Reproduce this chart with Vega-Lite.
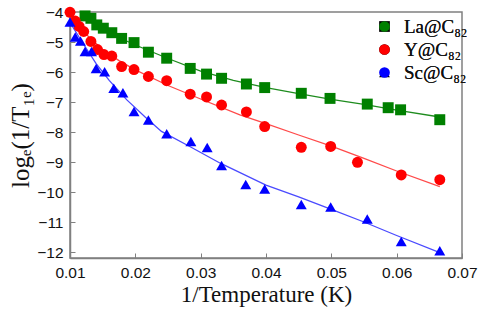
{
  "$schema": "https://vega.github.io/schema/vega-lite/v6.json",
  "width": 392,
  "height": 246,
  "autosize": "none",
  "padding": {"left": 70, "top": 12, "right": 23, "bottom": 55},
  "background": "white",
  "config": {
    "view": {"stroke": "#808080", "strokeWidth": 1.5},
    "axis": {
      "grid": false,
      "domainColor": "#808080",
      "domainWidth": 1.5,
      "tickColor": "#808080",
      "tickSize": -5,
      "labelFlush": false,
      "labelFont": "Liberation Sans",
      "labelFontSize": 15.5,
      "labelColor": "#111",
      "titleFont": "Liberation Serif",
      "titleFontWeight": "normal",
      "titleFontSize": 22,
      "titleColor": "#111"
    }
  },
  "datasets": {
    "pts": [
      {"series": "La@C₈₂", "x": 0.0123, "y": -4.13},
      {"series": "La@C₈₂", "x": 0.0132, "y": -4.21},
      {"series": "La@C₈₂", "x": 0.0141, "y": -4.43},
      {"series": "La@C₈₂", "x": 0.0151, "y": -4.54},
      {"series": "La@C₈₂", "x": 0.0164, "y": -4.69},
      {"series": "La@C₈₂", "x": 0.0179, "y": -4.88},
      {"series": "La@C₈₂", "x": 0.0198, "y": -5.02},
      {"series": "La@C₈₂", "x": 0.0220, "y": -5.34},
      {"series": "La@C₈₂", "x": 0.0248, "y": -5.54},
      {"series": "La@C₈₂", "x": 0.0284, "y": -5.88},
      {"series": "La@C₈₂", "x": 0.0309, "y": -6.07},
      {"series": "La@C₈₂", "x": 0.0332, "y": -6.21},
      {"series": "La@C₈₂", "x": 0.0370, "y": -6.40},
      {"series": "La@C₈₂", "x": 0.0398, "y": -6.52},
      {"series": "La@C₈₂", "x": 0.0454, "y": -6.71},
      {"series": "La@C₈₂", "x": 0.0498, "y": -6.88},
      {"series": "La@C₈₂", "x": 0.0555, "y": -7.07},
      {"series": "La@C₈₂", "x": 0.0587, "y": -7.19},
      {"series": "La@C₈₂", "x": 0.0606, "y": -7.26},
      {"series": "La@C₈₂", "x": 0.0666, "y": -7.59},
      {"series": "Y@C₈₂", "x": 0.0100, "y": -4.01},
      {"series": "Y@C₈₂", "x": 0.0108, "y": -4.30},
      {"series": "Y@C₈₂", "x": 0.0114, "y": -4.48},
      {"series": "Y@C₈₂", "x": 0.0121, "y": -4.65},
      {"series": "Y@C₈₂", "x": 0.0132, "y": -4.98},
      {"series": "Y@C₈₂", "x": 0.0142, "y": -5.25},
      {"series": "Y@C₈₂", "x": 0.0152, "y": -5.42},
      {"series": "Y@C₈₂", "x": 0.0164, "y": -5.47},
      {"series": "Y@C₈₂", "x": 0.0179, "y": -5.82},
      {"series": "Y@C₈₂", "x": 0.0198, "y": -5.92},
      {"series": "Y@C₈₂", "x": 0.0220, "y": -6.15},
      {"series": "Y@C₈₂", "x": 0.0248, "y": -6.29},
      {"series": "Y@C₈₂", "x": 0.0284, "y": -6.74},
      {"series": "Y@C₈₂", "x": 0.0309, "y": -6.83},
      {"series": "Y@C₈₂", "x": 0.0332, "y": -7.10},
      {"series": "Y@C₈₂", "x": 0.0370, "y": -7.33},
      {"series": "Y@C₈₂", "x": 0.0398, "y": -7.82},
      {"series": "Y@C₈₂", "x": 0.0454, "y": -8.51},
      {"series": "Y@C₈₂", "x": 0.0499, "y": -8.48},
      {"series": "Y@C₈₂", "x": 0.0540, "y": -9.01},
      {"series": "Y@C₈₂", "x": 0.0607, "y": -9.43},
      {"series": "Y@C₈₂", "x": 0.0666, "y": -9.59},
      {"series": "Sc@C₈₂", "x": 0.0100, "y": -4.33},
      {"series": "Sc@C₈₂", "x": 0.0108, "y": -4.83},
      {"series": "Sc@C₈₂", "x": 0.0116, "y": -4.97},
      {"series": "Sc@C₈₂", "x": 0.0123, "y": -5.32},
      {"series": "Sc@C₈₂", "x": 0.0133, "y": -5.32},
      {"series": "Sc@C₈₂", "x": 0.0140, "y": -5.88},
      {"series": "Sc@C₈₂", "x": 0.0153, "y": -5.99},
      {"series": "Sc@C₈₂", "x": 0.0167, "y": -6.54},
      {"series": "Sc@C₈₂", "x": 0.0181, "y": -6.69},
      {"series": "Sc@C₈₂", "x": 0.0198, "y": -7.32},
      {"series": "Sc@C₈₂", "x": 0.0220, "y": -7.60},
      {"series": "Sc@C₈₂", "x": 0.0248, "y": -8.06},
      {"series": "Sc@C₈₂", "x": 0.0285, "y": -8.32},
      {"series": "Sc@C₈₂", "x": 0.0310, "y": -8.52},
      {"series": "Sc@C₈₂", "x": 0.0332, "y": -9.12},
      {"series": "Sc@C₈₂", "x": 0.0369, "y": -9.75},
      {"series": "Sc@C₈₂", "x": 0.0398, "y": -9.90},
      {"series": "Sc@C₈₂", "x": 0.0454, "y": -10.42},
      {"series": "Sc@C₈₂", "x": 0.0499, "y": -10.50},
      {"series": "Sc@C₈₂", "x": 0.0555, "y": -10.90},
      {"series": "Sc@C₈₂", "x": 0.0607, "y": -11.65},
      {"series": "Sc@C₈₂", "x": 0.0666, "y": -11.96}
    ],
    "fit": [
      {"series": "La@C₈₂", "x": 0.0120, "y": -4.08},
      {"series": "La@C₈₂", "x": 0.0150, "y": -4.56},
      {"series": "La@C₈₂", "x": 0.0175, "y": -4.85},
      {"series": "La@C₈₂", "x": 0.0200, "y": -5.10},
      {"series": "La@C₈₂", "x": 0.0250, "y": -5.55},
      {"series": "La@C₈₂", "x": 0.0300, "y": -5.97},
      {"series": "La@C₈₂", "x": 0.0350, "y": -6.28},
      {"series": "La@C₈₂", "x": 0.0400, "y": -6.52},
      {"series": "La@C₈₂", "x": 0.0450, "y": -6.72},
      {"series": "La@C₈₂", "x": 0.0500, "y": -6.91},
      {"series": "La@C₈₂", "x": 0.0550, "y": -7.08},
      {"series": "La@C₈₂", "x": 0.0600, "y": -7.27},
      {"series": "La@C₈₂", "x": 0.0666, "y": -7.50},
      {"series": "Y@C₈₂", "x": 0.0100, "y": -4.02},
      {"series": "Y@C₈₂", "x": 0.0125, "y": -4.75},
      {"series": "Y@C₈₂", "x": 0.0150, "y": -5.25},
      {"series": "Y@C₈₂", "x": 0.0175, "y": -5.62},
      {"series": "Y@C₈₂", "x": 0.0200, "y": -5.93},
      {"series": "Y@C₈₂", "x": 0.0250, "y": -6.45},
      {"series": "Y@C₈₂", "x": 0.0300, "y": -6.90},
      {"series": "Y@C₈₂", "x": 0.0360, "y": -7.43},
      {"series": "Y@C₈₂", "x": 0.0400, "y": -7.72},
      {"series": "Y@C₈₂", "x": 0.0450, "y": -8.10},
      {"series": "Y@C₈₂", "x": 0.0500, "y": -8.47},
      {"series": "Y@C₈₂", "x": 0.0550, "y": -8.88},
      {"series": "Y@C₈₂", "x": 0.0600, "y": -9.30},
      {"series": "Y@C₈₂", "x": 0.0666, "y": -9.82},
      {"series": "Sc@C₈₂", "x": 0.0100, "y": -4.35},
      {"series": "Sc@C₈₂", "x": 0.0120, "y": -5.05},
      {"series": "Sc@C₈₂", "x": 0.0140, "y": -5.72},
      {"series": "Sc@C₈₂", "x": 0.0160, "y": -6.28},
      {"series": "Sc@C₈₂", "x": 0.0187, "y": -6.93},
      {"series": "Sc@C₈₂", "x": 0.0215, "y": -7.50},
      {"series": "Sc@C₈₂", "x": 0.0240, "y": -7.98},
      {"series": "Sc@C₈₂", "x": 0.0284, "y": -8.49},
      {"series": "Sc@C₈₂", "x": 0.0330, "y": -9.04},
      {"series": "Sc@C₈₂", "x": 0.0400, "y": -9.77},
      {"series": "Sc@C₈₂", "x": 0.0450, "y": -10.16},
      {"series": "Sc@C₈₂", "x": 0.0500, "y": -10.58},
      {"series": "Sc@C₈₂", "x": 0.0550, "y": -11.00},
      {"series": "Sc@C₈₂", "x": 0.0600, "y": -11.45},
      {"series": "Sc@C₈₂", "x": 0.0666, "y": -12.02}
    ]
  },
  "encoding": {
    "x": {
      "field": "x", "type": "quantitative",
      "scale": {"domain": [0.01, 0.07], "nice": false, "zero": false},
      "axis": {"values": [0.01, 0.02, 0.03, 0.04, 0.05, 0.06, 0.07], "format": ".2f", "title": "1/Temperature (K)", "titleFont": "Liberation Serif", "titleFontSize": 23, "labelPadding": 12, "titlePadding": 3}
    },
    "y": {
      "field": "y", "type": "quantitative",
      "scale": {"domain": [-12.2, -4], "nice": false, "zero": false},
      "axis": {"values": [-4, -5, -6, -7, -8, -9, -10, -11, -12], "title": "logₑ(1/T₁ₑ)", "titleFont": "Liberation Serif", "titleFontSize": 25, "labelPadding": 12, "titlePadding": 3}
    }
  },
  "layer": [
    {
      "data": {"name": "fit"},
      "mark": {"type": "line", "strokeWidth": 1.3, "clip": true},
      "encoding": {
        "color": {
          "field": "series", "type": "nominal", "legend": null,
          "scale": {"domain": ["La@C₈₂", "Y@C₈₂", "Sc@C₈₂"], "range": ["#1e8c1e", "#ff4a4a", "#4a4aff"]}
        }
      }
    },
    {
      "data": {"name": "pts"},
      "mark": {"type": "point", "filled": true, "opacity": 1},
      "encoding": {
        "color": {
          "field": "series", "type": "nominal",
          "scale": {"domain": ["La@C₈₂", "Y@C₈₂", "Sc@C₈₂"], "range": ["#008000", "#ff0000", "#0000ff"]},
          "legend": {
            "title": null, "orient": "none", "legendX": 305, "legendY": 5, "padding": 0,
            "labelFont": "Liberation Serif", "labelFontSize": 19, "labelColor": "#111",
            "symbolSize": 115, "rowPadding": 3, "labelOffset": 10
          }
        },
        "shape": {
          "field": "series", "type": "nominal",
          "scale": {"domain": ["La@C₈₂", "Y@C₈₂", "Sc@C₈₂"], "range": ["square", "circle", "triangle-up"]},
          "legend": {
            "title": null, "orient": "none", "legendX": 305, "legendY": 5, "padding": 0,
            "labelFont": "Liberation Serif", "labelFontSize": 19, "labelColor": "#111",
            "symbolSize": 115, "rowPadding": 3, "labelOffset": 10
          }
        },
        "size": {"value": 120}
      }
    }
  ],
  "resolve": {"scale": {"color": "independent"}}
}
